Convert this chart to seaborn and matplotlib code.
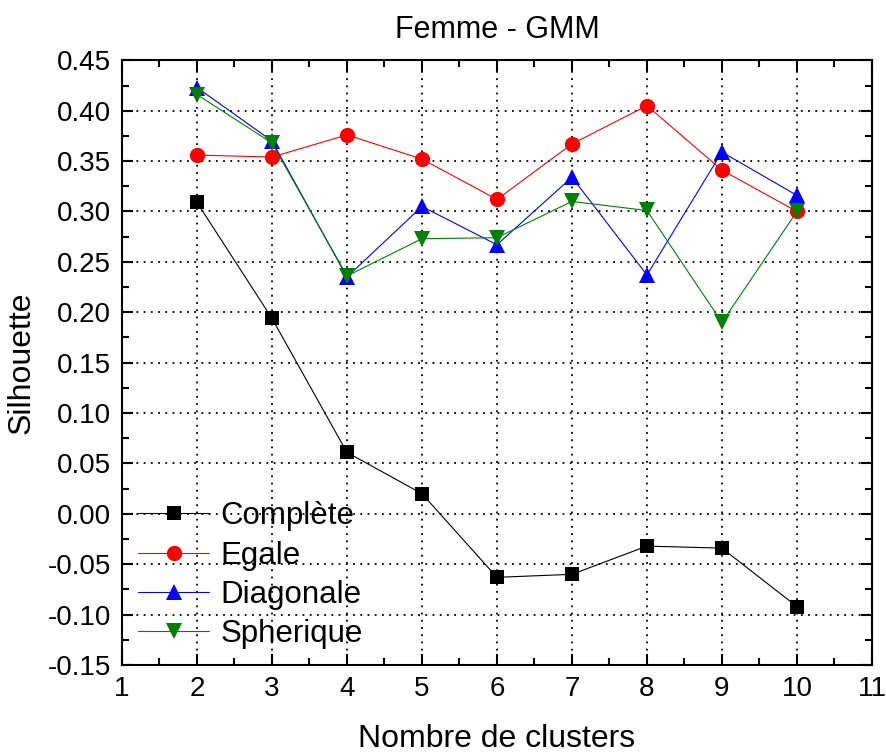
import seaborn as sns
import matplotlib.pyplot as plt
from matplotlib.ticker import MultipleLocator
import pandas as pd

clusters = [2, 3, 4, 5, 6, 7, 8, 9, 10]
complete = [0.309, 0.194, 0.061, 0.020, -0.063, -0.060, -0.032, -0.034, -0.092]
egale = [0.356, 0.354, 0.376, 0.352, 0.312, 0.367, 0.405, 0.341, 0.300]
diagonale = [0.423, 0.370, 0.235, 0.305, 0.267, 0.334, 0.237, 0.359, 0.316]
spherique = [0.416, 0.368, 0.236, 0.273, 0.274, 0.310, 0.301, 0.190, 0.300]

sns.set_style("ticks")
plt.rcParams['font.family'] = ['Liberation Sans', 'DejaVu Sans']
plt.rcParams['text.color'] = 'black'
plt.rcParams['axes.labelcolor'] = 'black'
plt.rcParams['xtick.color'] = 'black'
plt.rcParams['ytick.color'] = 'black'
plt.rcParams['axes.edgecolor'] = 'black'

fig = plt.figure(figsize=(8.87, 7.54), dpi=100)
ax = fig.add_axes([0.1375, 0.118, 0.8455, 0.802])

series = [
    ("Complète", complete, "black", "s", 10),
    ("Egale", egale, "red", "o", 11),
    ("Diagonale", diagonale, "blue", "^", 11),
    ("Spherique", spherique, "green", "v", 11),
]
for name, vals, col, mk, ms in series:
    df = pd.DataFrame({"x": clusters, "y": vals})
    sns.lineplot(data=df, x="x", y="y", ax=ax, color=col, marker=mk, markersize=ms,
                 markeredgewidth=0, linewidth=0.8, label=name)

ax.set_xlim(1, 11)
ax.set_ylim(-0.15, 0.45)
ax.xaxis.set_major_locator(MultipleLocator(1))
ax.xaxis.set_minor_locator(MultipleLocator(0.5))
ax.yaxis.set_major_locator(MultipleLocator(0.05))
ax.yaxis.set_minor_locator(MultipleLocator(0.025))
ax.yaxis.set_major_formatter(plt.FormatStrFormatter('%.2f'))
ax.tick_params(which='both', direction='in', top=True, right=True, width=1.5)
ax.tick_params(which='major', length=8, labelsize=20, pad=8)
ax.tick_params(which='minor', length=5)
ax.grid(True, which='major', color='black', linestyle=(0, (1, 3)), linewidth=1.3)
for s in ax.spines.values():
    s.set_linewidth(1.5)

ax.set_title("Femme - GMM", fontsize=22, pad=16)
ax.set_xlabel("Nombre de clusters", fontsize=23, labelpad=16)
ax.set_ylabel("Silhouette", fontsize=23, labelpad=8)

ax.legend(loc='lower left', bbox_to_anchor=(0.0, 0.0), frameon=False, fontsize=22.5,
          handlelength=2.3, handletextpad=0.35, labelspacing=0.3, borderaxespad=0.1)

fig.savefig("out.png", dpi=100)
